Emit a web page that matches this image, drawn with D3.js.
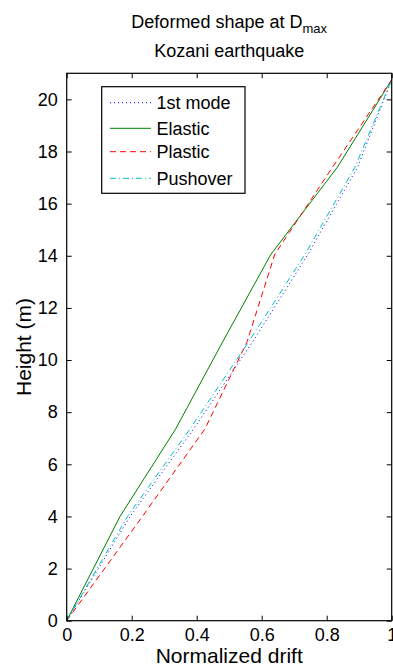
<!DOCTYPE html>
<html><head><meta charset="utf-8">
<script src="https://cdn.jsdelivr.net/npm/d3@7"></script>
<style>html,body{margin:0;padding:0;background:#fff;} svg{display:block;font-family:"Liberation Sans",Arial,sans-serif;}</style>
</head><body>
<script>
const heights = [0, 4, 7.35, 10.7, 14.05, 17.4, 20.75];
const firstMode = [0, 0.195, 0.39, 0.572, 0.742, 0.895, 1];
const elastic   = [0, 0.164, 0.335, 0.48, 0.628, 0.833, 1];
const plastic   = [0, 0.233, 0.425, 0.555, 0.64, 0.818, 1];
const pushover  = [0, 0.187, 0.379, 0.56, 0.733, 0.887, 1];
const seriesNames = ["1st mode", "Elastic", "Plastic", "Pushover"];
const xTicks = [0, 0.2, 0.4, 0.6, 0.8, 1];
const yTicks = [0, 2, 4, 6, 8, 10, 12, 14, 16, 18, 20];

const W = 393, H = 666;
const m = {l: 66.7, r: 391.7, t: 73.3, b: 620.7};
const svg = d3.select("body").append("svg").attr("width", W).attr("height", H);
const x = d3.scaleLinear().domain([0, 1]).range([m.l, m.r]);
const y = d3.scaleLinear().domain([0, 21]).range([m.b, m.t]);

const styles = [
  {c: "#0000ff", d: "1,3"},
  {c: "#008000", d: null},
  {c: "#ff0000", d: "6,4"},
  {c: "#00bfbf", d: "6,3,1,3"}
];
const data = [firstMode, elastic, plastic, pushover];

const line = d3.line().x(d => x(d[0])).y(d => y(d[1]));
data.forEach((s, i) => {
  svg.append("path")
    .datum(s.map((v, k) => [v, heights[k]]))
    .attr("d", line).attr("fill", "none")
    .attr("stroke", styles[i].c).attr("stroke-width", 1)
    .attr("stroke-dasharray", styles[i].d);
});

// axes
const fmt = d => d === 0 ? "0" : (d === 1 ? "1" : d3.format(".1f")(d));
const gx = svg.append("g").attr("transform", `translate(0,${m.b})`)
  .call(d3.axisBottom(x).tickValues(xTicks).tickFormat(fmt).tickSize(-5).tickPadding(8));
const gxt = svg.append("g").attr("transform", `translate(0,${m.t})`)
  .call(d3.axisTop(x).tickValues(xTicks).tickFormat("").tickSize(-5));
const gy = svg.append("g").attr("transform", `translate(${m.l},0)`)
  .call(d3.axisLeft(y).tickValues(yTicks).tickFormat(d3.format("d")).tickSize(-5).tickPadding(9));
const gyr = svg.append("g").attr("transform", `translate(${m.r},0)`)
  .call(d3.axisRight(y).tickValues(yTicks).tickFormat("").tickSize(-5));
[gx, gxt, gy, gyr].forEach(g => {
  g.select(".domain").remove();
  g.selectAll("line").attr("stroke", "#000");
  g.selectAll("text").attr("fill", "#000").style("font-size", "18px")
   .style("font-family", '"Liberation Sans",Arial,sans-serif');
});
svg.append("rect").attr("x", m.l).attr("y", m.t).attr("width", m.r - m.l).attr("height", m.b - m.t)
  .attr("fill", "none").attr("stroke", "#000").attr("stroke-width", 1.2);

// labels
svg.append("text").attr("x", (m.l + m.r) / 2).attr("y", 663).attr("text-anchor", "middle")
  .style("font-size", "21px").text("Normalized drift");
svg.append("text").attr("transform", `translate(31,${(m.t + m.b) / 2}) rotate(-90)`)
  .attr("text-anchor", "middle").style("font-size", "21px").text("Height (m)");

const t1 = svg.append("text").attr("x", (m.l + m.r) / 2).attr("y", 28).attr("text-anchor", "middle")
  .style("font-size", "18px");
t1.append("tspan").text("Deformed shape at D");
t1.append("tspan").attr("dy", 5).style("font-size", "13px").text("max");
svg.append("text").attr("x", (m.l + m.r) / 2).attr("y", 57).attr("text-anchor", "middle")
  .style("font-size", "18px").text("Kozani earthquake");

// legend
const lg = svg.append("g");
lg.append("rect").attr("x", 101.7).attr("y", 86.7).attr("width", 143.3).attr("height", 106.6)
  .attr("fill", "#fff").attr("stroke", "#000").attr("stroke-width", 1.2);
const ly = [102.7, 128.3, 151.7, 178.3];
seriesNames.forEach((n, i) => {
  lg.append("line").attr("x1", 110).attr("x2", 151).attr("y1", ly[i]).attr("y2", ly[i])
    .attr("stroke", styles[i].c).attr("stroke-width", 1).attr("stroke-dasharray", styles[i].d);
  lg.append("text").attr("x", 156.5).attr("y", ly[i] + 6.5).style("font-size", "18px").text(n);
});
</script>
</body></html>
